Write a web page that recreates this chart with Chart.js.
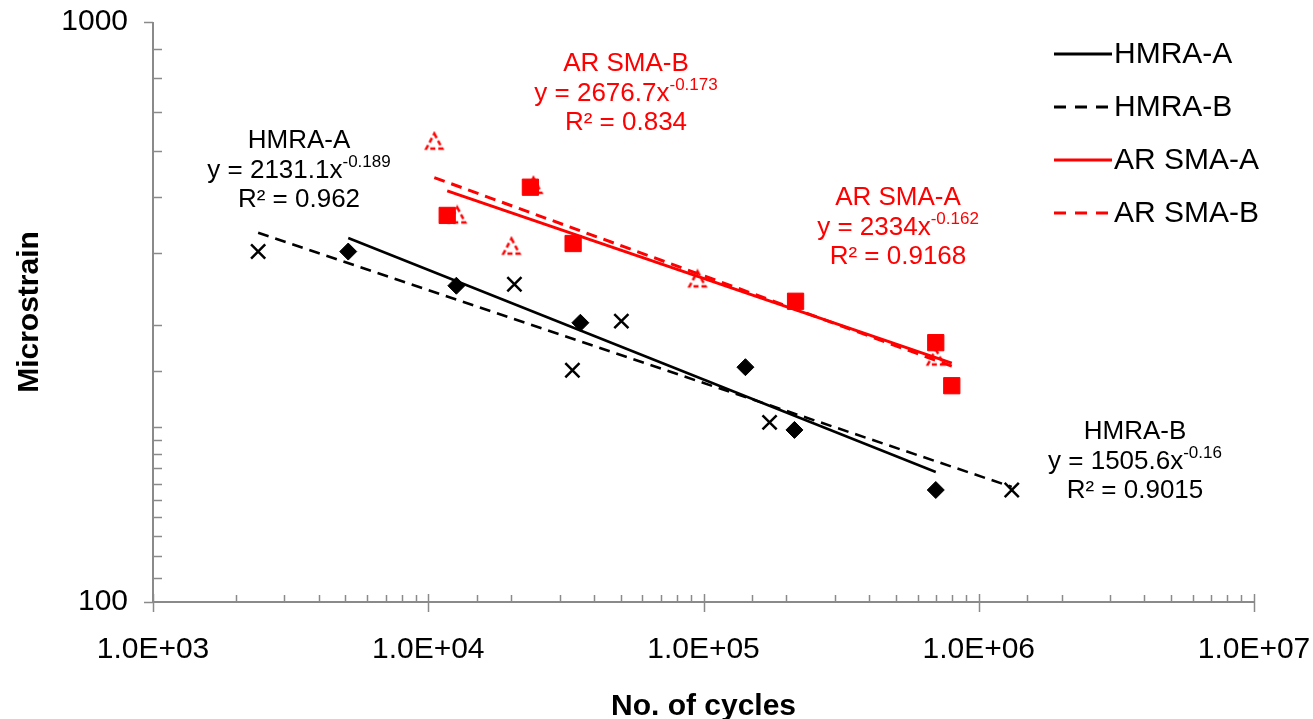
<!DOCTYPE html>
<html>
<head>
<meta charset="utf-8">
<script src="https://cdn.jsdelivr.net/npm/chart.js@4.4.2/dist/chart.umd.min.js"></script>
<style>
  html, body { margin: 0; padding: 0; background: #fff; }
  #wrap { width: 1313px; height: 719px; }
</style>
</head>
<body>
<div id="wrap"><canvas id="chart"></canvas></div>
<script>
// data (cycles, microstrain)
const hmraA_x = [5120, 12650, 35700, 142000, 214000, 698000];
const hmraA_y = [402, 351, 303, 254, 198, 156];
const hmraB_x = [2410, 20560, 33400, 50300, 173800, 1318000];
const hmraB_y = [402, 353, 251, 305, 204, 156];
const smaA_x = [11720, 23500, 33600, 216000, 698000, 798000];
const smaA_y = [464, 519, 415, 330, 280, 236];
const smaB_x = [10520, 12740, 20050, 24100, 95100, 698000];
const smaB_y = [622, 464, 410, 522, 360, 264];

// power trendlines y = a * x^b, as printed on the chart
const trendNames = ['HMRA-A', 'HMRA-B', 'AR SMA-A', 'AR SMA-B'];
const trendCoef = [2131.1, 1505.6, 2334, 2676.7];
const trendExp = [-0.189, -0.16, -0.162, -0.173];
const trendR2 = ['0.962', '0.9015', '0.9168', '0.834'];
const trendFrom = [5120, 2410, 11720, 10520];
const trendTo = [698000, 1318000, 798000, 798000];

const xTickLabels = ['1.0E+03', '1.0E+04', '1.0E+05', '1.0E+06', '1.0E+07'];

const pts = (xs, ys) => xs.map((x, i) => ({ x: x, y: ys[i] }));
const trend = i => [trendFrom[i], trendTo[i]].map(x => ({ x: x, y: trendCoef[i] * Math.pow(x, trendExp[i]) }));

const RED = '#ff0000';
const AXIS = '#8a8a8a';
const FONT = "'Liberation Sans', Arial, sans-serif";

// dashed outline triangle like the Excel marker
const tri = document.createElement('canvas');
tri.width = 22;
tri.height = 22;
(function () {
  const c = tri.getContext('2d');
  c.strokeStyle = RED;
  c.lineWidth = 2.5;
  c.setLineDash([5, 3]);
  c.beginPath();
  c.moveTo(11, 3);
  c.lineTo(19, 18);
  c.lineTo(3, 18);
  c.closePath();
  c.stroke();
})();

const lineStyles = [
  { color: '#000', dash: [] },
  { color: '#000', dash: [11, 7] },
  { color: RED, dash: [] },
  { color: RED, dash: [11, 7] }
];

const isPow10 = v => Math.abs(Math.log10(v) % 1) < 1e-9;

const axesPlugin = {
  id: 'axes',
  beforeDatasetsDraw(chart) {
    const { ctx, chartArea: a, scales: { x, y } } = chart;
    ctx.save();
    ctx.strokeStyle = AXIS;
    ctx.lineWidth = 2;
    ctx.beginPath();
    ctx.moveTo(a.left, a.top);
    ctx.lineTo(a.left, a.bottom);
    ctx.lineTo(a.right, a.bottom);
    ctx.stroke();
    ctx.lineWidth = 1.5;
    ctx.beginPath();
    y.ticks.forEach(t => {
      const py = Math.round(y.getPixelForValue(t.value)) + 0.5;
      if (isPow10(t.value)) { ctx.moveTo(a.left - 9, py); ctx.lineTo(a.left, py); }
      else { ctx.moveTo(a.left, py); ctx.lineTo(a.left + 9, py); }
    });
    x.ticks.forEach(t => {
      const px = Math.round(x.getPixelForValue(t.value)) + 0.5;
      if (isPow10(t.value)) { ctx.moveTo(px, a.bottom - 8); ctx.lineTo(px, a.bottom + 10); }
      else { ctx.moveTo(px, a.bottom - 7); ctx.lineTo(px, a.bottom); }
    });
    ctx.stroke();
    ctx.restore();
  }
};

function drawEq(ctx, cx, cy, name, coef, exp, r2, color) {
  const big = '26px ' + FONT;
  const small = '17px ' + FONT;
  ctx.fillStyle = color;
  ctx.textBaseline = 'middle';
  ctx.font = big;
  ctx.textAlign = 'center';
  ctx.fillText(name, cx, cy);
  const base = 'y = ' + coef + 'x';
  const sup = String(exp);
  const w1 = ctx.measureText(base).width;
  ctx.font = small;
  const w2 = ctx.measureText(sup).width;
  const left = cx - (w1 + w2) / 2;
  ctx.textAlign = 'left';
  ctx.font = big;
  ctx.fillText(base, left, cy + 30);
  ctx.font = small;
  ctx.fillText(sup, left + w1, cy + 21);
  ctx.font = big;
  ctx.textAlign = 'center';
  ctx.fillText('R\u00b2 = ' + r2, cx, cy + 59);
}

const notesPlugin = {
  id: 'notes',
  afterDraw(chart) {
    const ctx = chart.ctx;
    ctx.save();
    const spots = [[299, 141, '#000'], [1135, 432, '#000'], [898, 198, RED], [626, 64, RED]];
    spots.forEach((s, i) => drawEq(ctx, s[0], s[1], trendNames[i], trendCoef[i], trendExp[i], trendR2[i], s[2]));
    // legend
    ctx.font = '30px ' + FONT;
    ctx.textAlign = 'left';
    ctx.textBaseline = 'middle';
    trendNames.forEach((n, i) => {
      const ly = 54 + i * 53;
      ctx.strokeStyle = lineStyles[i].color;
      ctx.lineWidth = 3;
      ctx.setLineDash(lineStyles[i].dash.length ? [12, 9] : []);
      ctx.beginPath();
      ctx.moveTo(1054, ly);
      ctx.lineTo(1112, ly);
      ctx.stroke();
      ctx.fillStyle = '#000';
      ctx.fillText(n, 1114, ly + 1);
    });
    ctx.restore();
  }
};

new Chart(document.getElementById('chart'), {
  type: 'scatter',
  data: {
    datasets: [
      ...trendNames.map((n, i) => ({
        label: n,
        data: trend(i),
        showLine: true,
        borderColor: lineStyles[i].color,
        borderDash: lineStyles[i].dash,
        borderWidth: i < 2 ? 2.5 : 3,
        pointRadius: 0
      })),
      { label: 'HMRA-A pts', data: pts(hmraA_x, hmraA_y), pointStyle: 'rectRot', pointRadius: 8.5, backgroundColor: '#000', borderColor: '#000', borderWidth: 1 },
      { label: 'HMRA-B pts', data: pts(hmraB_x, hmraB_y), pointStyle: 'crossRot', pointRadius: 10, borderColor: '#000', borderWidth: 2.5 },
      { label: 'AR SMA-A pts', data: pts(smaA_x, smaA_y), pointStyle: 'rect', pointRadius: 11.5, backgroundColor: RED, borderColor: RED, borderWidth: 1 },
      { label: 'AR SMA-B pts', data: pts(smaB_x, smaB_y), pointStyle: tri, pointRadius: 10 }
    ]
  },
  options: {
    responsive: true,
    maintainAspectRatio: false,
    animation: false,
    layout: { padding: { top: 22, right: 59, left: 0, bottom: 0 } },
    plugins: { legend: { display: false }, tooltip: { enabled: false } },
    scales: {
      x: {
        type: 'logarithmic',
        min: 1000,
        max: 10000000,
        grid: { display: false },
        border: { display: false },
        afterFit: s => { s.height = 117; s.paddingLeft = 0; s.paddingRight = 0; },
        ticks: {
          autoSkip: false,
          maxRotation: 0,
          padding: 22,
          color: '#000',
          font: { family: FONT, size: 30 },
          callback: v => isPow10(v) ? xTickLabels[Math.round(Math.log10(v)) - 3] : ''
        },
        title: { display: true, text: 'No. of cycles', color: '#000', padding: { top: 0, bottom: 0 }, font: { family: FONT, size: 30, weight: 'bold', lineHeight: 0.8 } }
      },
      y: {
        type: 'logarithmic',
        min: 100,
        max: 1000,
        grid: { display: false },
        border: { display: false },
        afterFit: s => { s.width = 153; s.paddingTop = 0; s.paddingBottom = 0; },
        ticks: {
          autoSkip: false,
          padding: 17,
          color: '#000',
          font: { family: FONT, size: 30 },
          callback: v => isPow10(v) ? String(v) : ''
        },
        title: { display: true, text: 'Microstrain', color: '#000', padding: { top: 12, bottom: 0 }, font: { family: FONT, size: 30, weight: 'bold' } }
      }
    }
  },
  plugins: [axesPlugin, notesPlugin]
});
</script>
</body>
</html>
